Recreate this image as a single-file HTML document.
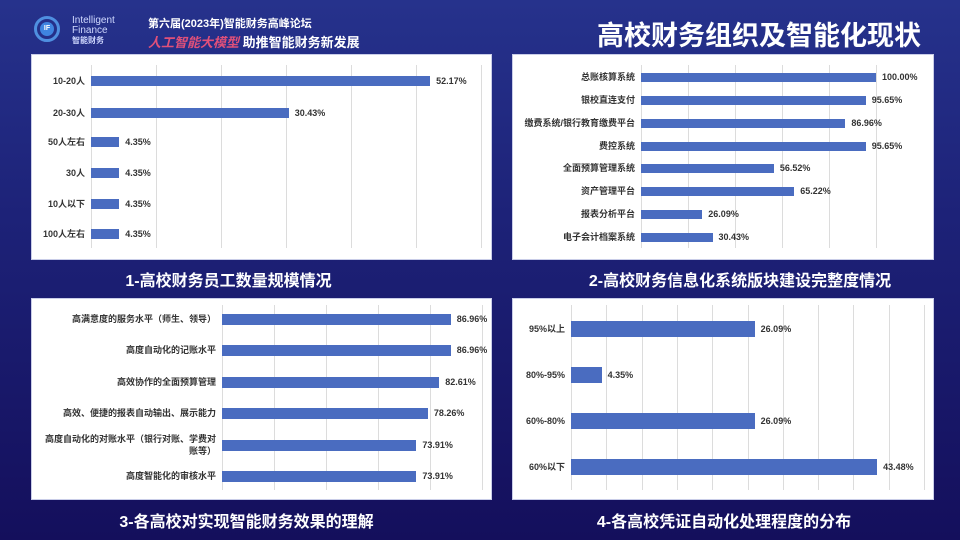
<!DOCTYPE html>
<html><head><meta charset="utf-8"><style>
*{margin:0;padding:0;box-sizing:border-box}
body{width:960px;height:540px;overflow:hidden;position:relative;font-family:"Liberation Sans","Noto Sans CJK SC",sans-serif;
background:linear-gradient(180deg,#26328c 0%,#1d2278 40%,#140f5c 100%);}
.box{position:absolute;background:#fff;border:1px solid #c9cde8}
.t{position:absolute;color:#fff;font-weight:bold;font-size:16px;text-align:center;white-space:nowrap}
.lab{position:absolute;font-size:9px;color:#333;text-align:right;white-space:nowrap;font-weight:bold}
.val{position:absolute;font-size:9px;color:#333;font-weight:bold;white-space:nowrap}
.bar{position:absolute;background:#4a6cc0}
.g{position:absolute;width:1px;background:#dcdcdc}
</style></head><body>
<div style="position:absolute;left:34px;top:16px;width:26px;height:26px;border-radius:50%;border:3px solid #4f8fe0"></div>
<div style="position:absolute;left:40px;top:22px;width:14px;height:14px;border-radius:50%;background:#3f84e0;color:#fff;font-size:7px;font-weight:bold;text-align:center;line-height:14px">IF</div>
<div style="position:absolute;left:72px;top:16px;color:#cfd8ff;font-size:10px;line-height:10px">Intelligent<br>Finance<br><b style="font-size:8px">智能财务</b></div>
<div style="position:absolute;left:148px;top:15px;color:#fff;font-size:11px;font-weight:bold">第六届(2023年)智能财务高峰论坛</div>
<div style="position:absolute;left:148px;top:32px;font-size:13px;font-weight:bold"><span style="color:#e0507a;font-style:italic">人工智能大模型</span> <span style="color:#fff">助推智能财务新发展</span></div>
<div style="position:absolute;left:597px;top:14px;color:#fff;font-size:27px;font-weight:bold">高校财务组织及智能化现状</div>

<div class="box" style="left:31px;top:54px;width:461px;height:206px"></div>
<div class="box" style="left:512px;top:54px;width:422px;height:206px"></div>
<div class="box" style="left:31px;top:298px;width:461px;height:202px"></div>
<div class="box" style="left:512px;top:298px;width:422px;height:202px"></div>

<div class="t" style="left:-2px;top:267px;width:461px">1-高校财务员工数量规模情况</div>
<div class="t" style="left:529px;top:267px;width:422px">2-高校财务信息化系统版块建设完整度情况</div>
<div class="t" style="left:16px;top:508px;width:461px">3-各高校对实现智能财务效果的理解</div>
<div class="t" style="left:513px;top:508px;width:422px">4-各高校凭证自动化处理程度的分布</div>

<div id="c"></div>
<script>
var h='';
function chart(o){
 for(var i=0;i<o.ng;i++){h+='<div class="g" style="left:'+(o.ax+i*o.gs)+'px;top:'+o.gt+'px;height:'+(o.gb-o.gt)+'px"></div>';}
 o.rows.forEach(function(r,i){var y=o.ys[i],w=r[1]*o.k;
  h+='<div class="bar" style="left:'+o.ax+'px;top:'+(y-o.bh/2)+'px;width:'+w+'px;height:'+o.bh+'px"></div>';
  h+='<div class="lab" style="right:'+(960-o.ax+6)+'px;top:'+(y-(r[2]?12:6))+'px;line-height:12px">'+r[0]+'</div>';
  h+='<div class="val" style="left:'+(o.ax+w+6)+'px;top:'+(y-6)+'px;line-height:12px">'+r[1].toFixed(2)+'%</div>';});
}
chart({ax:91,gs:65,ng:7,gt:65,gb:248,k:6.5,bh:10,ys:[81,113,142,173,204,234],
 rows:[["10-20人",52.17],["20-30人",30.43],["50人左右",4.35],["30人",4.35],["10人以下",4.35],["100人左右",4.35]]});
chart({ax:641,gs:47,ng:6,gt:65,gb:248,k:2.35,bh:9,ys:[77,100,123,146,168,191,214,237],
 rows:[["总账核算系统",100],["银校直连支付",95.65],["缴费系统/银行教育缴费平台",86.96],["费控系统",95.65],["全面预算管理系统",56.52],["资产管理平台",65.22],["报表分析平台",26.09],["电子会计档案系统",30.43]]});
chart({ax:222,gs:52,ng:6,gt:305,gb:490,k:2.63,bh:11,ys:[319,350,382,413,445,476],
 rows:[["高满意度的服务水平（师生、领导）",86.96],["高度自动化的记账水平",86.96],["高效协作的全面预算管理",82.61],["高效、便捷的报表自动输出、展示能力",78.26],["高度自动化的对账水平（银行对账、学费对<br>账等）",73.91,1],["高度智能化的审核水平",73.91]]});
chart({ax:571,gs:35.3,ng:11,gt:305,gb:490,k:7.04,bh:16,ys:[329,375,421,467],
 rows:[["95%以上",26.09],["80%-95%",4.35],["60%-80%",26.09],["60%以下",43.48]]});
document.getElementById('c').innerHTML=h;
</script>
</body></html>
